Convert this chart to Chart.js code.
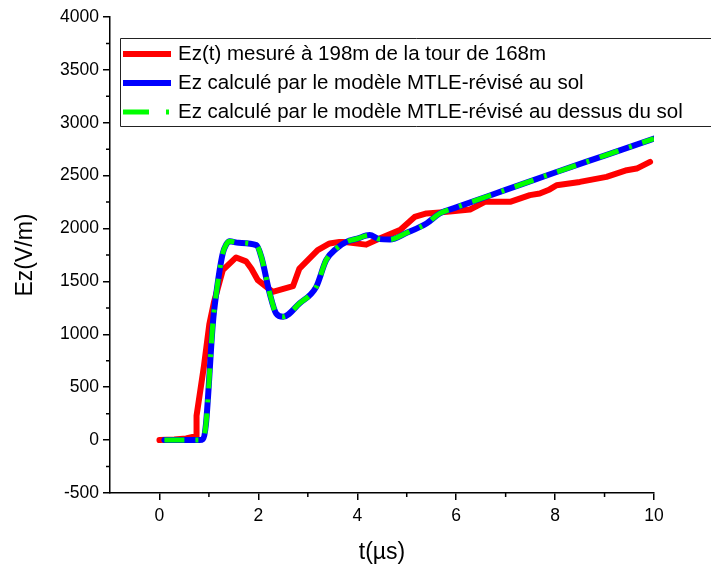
<!DOCTYPE html>
<html>
<head>
<meta charset="utf-8">
<script src="https://cdn.jsdelivr.net/npm/chart.js@4.4.0/dist/chart.umd.min.js"></script>
<style>
  html, body { margin: 0; background: #fff; }
  #wrap { width: 711px; height: 570px; }
</style>
</head>
<body>
<div id="wrap"><canvas id="chart"></canvas></div>
<script>
// series labels
const seriesNames = [
  "Ez(t) mesuré à 198m de la tour de 168m",
  "Ez calculé par le modèle MTLE-révisé au sol",
  "Ez calculé par le modèle MTLE-révisé au dessus du sol"
];

// measured field (red)
const measuredT  = [0, 0.3, 0.54, 0.67, 0.74, 0.75, 0.9, 1.01, 1.1, 1.28, 1.55, 1.75, 1.86, 1.99, 2.29, 2.7, 2.83, 3.2, 3.44, 3.64, 3.71, 4.18, 4.45, 4.86, 5.16, 5.4, 5.87, 6.28, 6.58, 7.09, 7.49, 7.69, 7.89, 8.03, 8.5, 9.04, 9.45, 9.65, 9.92];
const measuredEz = [0, 5, 15, 30, 30, 230, 700, 1100, 1300, 1607, 1727, 1690, 1620, 1512, 1402, 1455, 1622, 1796, 1859, 1874, 1874, 1848, 1906, 1985, 2110, 2143, 2160, 2180, 2253, 2253, 2316, 2332, 2370, 2410, 2441, 2489, 2552, 2567, 2630];

// MTLE revised model at ground (blue)
const groundT  = [0.1, 0.81, 0.88, 0.94, 1.08, 1.15, 1.28, 1.35, 1.42, 1.6, 1.96, 2.06, 2.23, 2.36, 2.5, 2.83, 3.17, 3.37, 3.58, 3.78, 4.0, 4.25, 4.45, 4.66, 5.0, 5.4, 5.67, 6.0, 7.0, 8.0, 9.0, 10.0];
const groundEz = [0, 0, 10, 150, 1103, 1390, 1765, 1850, 1880, 1865, 1843, 1733, 1387, 1197, 1166, 1292, 1449, 1701, 1812, 1874, 1905, 1938, 1900, 1897, 1960, 2048, 2143, 2200, 2365, 2530, 2690, 2850];

// MTLE revised model above ground (green, dashed)
const aboveT  = [0.1, 0.81, 0.88, 0.94, 1.08, 1.15, 1.28, 1.35, 1.42, 1.6, 1.96, 2.06, 2.23, 2.36, 2.5, 2.83, 3.17, 3.37, 3.58, 3.78, 4.0, 4.25, 4.45, 4.66, 5.0, 5.4, 5.67, 6.0, 7.0, 8.0, 9.0, 10.0];
const aboveEz = [0, 0, 10, 150, 1103, 1390, 1765, 1850, 1880, 1865, 1843, 1733, 1387, 1197, 1166, 1292, 1449, 1701, 1812, 1874, 1905, 1938, 1900, 1897, 1960, 2048, 2143, 2200, 2365, 2530, 2690, 2850];

const xTicks = [0, 2, 4, 6, 8, 10];
const xMinorTicks = [1, 3, 5, 7, 9];
const yTicks = [-500, 0, 500, 1000, 1500, 2000, 2500, 3000, 3500, 4000];
const yMinorTicks = [-250, 250, 750, 1250, 1750, 2250, 2750, 3250, 3750];

const FONT = "'Liberation Sans', Arial, sans-serif";
const toPoints = (xs, ys) => xs.map((x, i) => ({ x, y: ys[i] }));

const minorTicks = {
  id: 'minorTicks',
  afterDraw(chart) {
    const { ctx, scales: { x, y } } = chart;
    ctx.save();
    ctx.strokeStyle = '#000';
    ctx.lineWidth = 1.5;
    ctx.beginPath();
    xMinorTicks.forEach(v => {
      const px = x.getPixelForValue(v);
      ctx.moveTo(px, y.bottom);
      ctx.lineTo(px, y.bottom + 4);
    });
    yMinorTicks.forEach(v => {
      const py = y.getPixelForValue(v);
      ctx.moveTo(x.left, py);
      ctx.lineTo(x.left - 4, py);
    });
    ctx.stroke();
    ctx.restore();
  }
};

// legend box, open on the right like the original (runs off the page)
const boxLegend = {
  id: 'boxLegend',
  afterDraw(chart) {
    const ctx = chart.ctx;
    const left = 120.5, top = 38.5, bottom = 126.5, right = chart.width + 5;
    ctx.save();
    ctx.fillStyle = '#fff';
    ctx.fillRect(left, top, right - left, bottom - top);
    ctx.strokeStyle = '#222';
    ctx.lineWidth = 1;
    ctx.beginPath();
    ctx.moveTo(right, top);
    ctx.lineTo(left, top);
    ctx.lineTo(left, bottom);
    ctx.lineTo(right, bottom);
    ctx.stroke();
    const rows = [54, 83, 112];
    chart.data.datasets.forEach((ds, i) => {
      const yy = rows[i];
      ctx.beginPath();
      ctx.strokeStyle = ds.borderColor;
      ctx.lineWidth = ds.borderWidth;
      ctx.lineCap = 'butt';
      ctx.setLineDash(i === 2 ? [26, 17, 3, 17] : []);
      ctx.moveTo(123, yy);
      ctx.lineTo(171, yy);
      ctx.stroke();
      ctx.setLineDash([]);
      ctx.fillStyle = '#000';
      ctx.font = '20.5px ' + FONT;
      ctx.textBaseline = 'middle';
      ctx.fillText(ds.label, 178, yy);
    });
    ctx.restore();
  }
};

new Chart(document.getElementById('chart'), {
  type: 'line',
  data: {
    datasets: [
      {
        label: seriesNames[0],
        data: toPoints(measuredT, measuredEz),
        borderColor: '#ff0000',
        borderWidth: 6,
        borderCapStyle: 'round',
        borderJoinStyle: 'round',
        tension: 0,
        pointRadius: 0,
        order: 2
      },
      {
        label: seriesNames[1],
        data: toPoints(groundT, groundEz),
        borderColor: '#0000ff',
        borderWidth: 6,
        borderCapStyle: 'round',
        borderJoinStyle: 'round',
        cubicInterpolationMode: 'monotone',
        pointRadius: 0,
        order: 1
      },
      {
        label: seriesNames[2],
        data: toPoints(aboveT, aboveEz),
        borderColor: '#00ff00',
        borderWidth: 5,
        borderDash: [20, 11, 3, 11],
        cubicInterpolationMode: 'monotone',
        pointRadius: 0,
        order: 0
      }
    ]
  },
  options: {
    responsive: true,
    maintainAspectRatio: false,
    animation: false,
    events: [],
    layout: { padding: { top: 17, right: 57, left: 0, bottom: 0 } },
    plugins: {
      legend: { display: false },
      tooltip: { enabled: false }
    },
    scales: {
      x: {
        type: 'linear',
        min: -1,
        max: 10,
        afterBuildTicks: s => { s.ticks = xTicks.map(v => ({ value: v })); },
        afterFit: s => { s.height = 77; },
        grid: { drawOnChartArea: false, drawTicks: true, tickLength: 7, color: '#000', lineWidth: 1.5 },
        border: { display: true, color: '#000', width: 1.5 },
        ticks: { color: '#000', font: { family: FONT, size: 17.5 }, padding: 6, maxRotation: 0, callback: v => String(v) },
        title: { display: true, text: 't(µs)', color: '#000', font: { family: FONT, size: 23 }, padding: { top: 0, bottom: 4 } }
      },
      y: {
        type: 'linear',
        min: -500,
        max: 4000,
        afterBuildTicks: s => { s.ticks = yTicks.map(v => ({ value: v })); },
        afterFit: s => { s.width = 110; },
        grid: { drawOnChartArea: false, drawTicks: true, tickLength: 7, color: '#000', lineWidth: 1.5 },
        border: { display: true, color: '#000', width: 1.5 },
        ticks: { color: '#000', font: { family: FONT, size: 17.5 }, padding: 4, callback: v => String(v) },
        title: { display: true, text: 'Ez(V/m)', color: '#000', font: { family: FONT, size: 23 }, padding: { top: 12, bottom: 0 } }
      }
    }
  },
  plugins: [minorTicks, boxLegend]
});
</script>
</body>
</html>
